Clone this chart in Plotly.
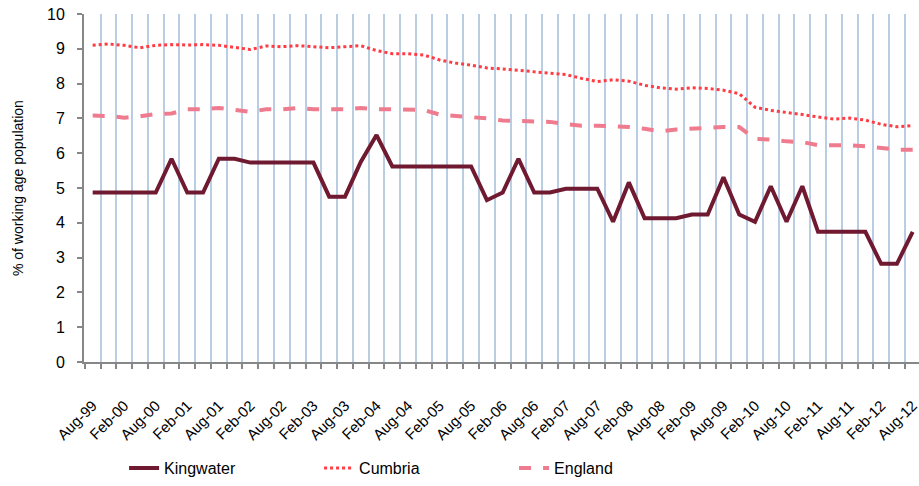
import plotly.graph_objs as go

# Quarterly categories, Aug-99 .. Aug-12 (53 quarters)
quarters = []
for yr in range(1999, 2013):
    for mon in ['Feb', 'May', 'Aug', 'Nov']:
        quarters.append(f"{mon}-{str(yr)[2:]}")
quarters = quarters[quarters.index('Aug-99'):quarters.index('Aug-12') + 1]

kingwater = [4.87, 4.87, 4.87, 4.87, 4.87, 5.84, 4.87, 4.87, 5.84, 5.84,
             5.73, 5.73, 5.73, 5.73, 5.73, 4.75, 4.75, 5.75, 6.52, 5.62,
             5.62, 5.62, 5.62, 5.62, 5.62, 4.65, 4.87, 5.84, 4.87, 4.87,
             4.98, 4.98, 4.98, 4.03, 5.16, 4.13, 4.13, 4.13, 4.24, 4.24,
             5.31, 4.24, 4.03, 5.05, 4.03, 5.05, 3.74, 3.74, 3.74, 3.74,
             2.82, 2.82, 3.74]

cumbria = [9.10, 9.14, 9.10, 9.03, 9.10, 9.12, 9.11, 9.12, 9.10, 9.05,
           8.98, 9.08, 9.06, 9.09, 9.05, 9.03, 9.06, 9.09, 8.95, 8.86,
           8.86, 8.82, 8.68, 8.59, 8.53, 8.45, 8.42, 8.38, 8.32, 8.29,
           8.26, 8.15, 8.06, 8.11, 8.07, 7.95, 7.88, 7.84, 7.88, 7.86,
           7.81, 7.71, 7.32, 7.23, 7.18, 7.11, 7.04, 6.98, 7.01, 6.95,
           6.83, 6.76, 6.79]

england = [7.08, 7.07, 7.02, 7.06, 7.13, 7.14, 7.26, 7.26, 7.30, 7.24,
           7.19, 7.26, 7.26, 7.30, 7.26, 7.26, 7.26, 7.30, 7.26, 7.26,
           7.26, 7.24, 7.11, 7.07, 7.05, 7.00, 6.94, 6.92, 6.92, 6.90,
           6.84, 6.79, 6.79, 6.77, 6.75, 6.70, 6.63, 6.68, 6.70, 6.74,
           6.75, 6.75, 6.41, 6.39, 6.34, 6.32, 6.23, 6.23, 6.23, 6.20,
           6.15, 6.10, 6.10]

tick_labels = quarters[::2]

x = list(range(len(quarters)))
tick_pos = x[::2]
grid_pos = [i + 0.5 for i in range(-1, len(quarters))]

fig = go.Figure()
fig.add_trace(go.Scatter(x=x, y=kingwater, mode='lines', name='Kingwater',
                         line=dict(color='#6F1A30', width=4)))
fig.add_trace(go.Scatter(x=x, y=cumbria, mode='lines', name='Cumbria',
                         line=dict(color='#FF3B43', width=3, dash='dot')))
fig.add_trace(go.Scatter(x=x, y=england, mode='lines', name='England',
                         line=dict(color='#EF7B8E', width=4, dash='dash')))

fig.update_layout(
    width=919, height=486,
    margin=dict(l=84, r=0, t=14, b=124),
    plot_bgcolor='white', paper_bgcolor='white',
    font=dict(family='Liberation Sans, Arial', color='black'),
    showlegend=True,
    legend=dict(orientation='h', x=0.048, y=-0.256, xanchor='left', yanchor='top',
                entrywidth=150, entrywidthmode='pixels',
                font=dict(size=16), bgcolor='rgba(0,0,0,0)'),
    xaxis=dict(range=[-0.55, 52.4], tickmode='array', tickvals=tick_pos,
               ticktext=tick_labels, tickangle=-45, ticks='', automargin=False,
               ticklabelstandoff=27, ticklabeloverflow='allow',
               tickfont=dict(size=15), showgrid=False, zeroline=False,
               showline=True, linecolor='#878787', linewidth=2,
               minor=dict(tickmode='array', tickvals=grid_pos, showgrid=True,
                          gridcolor='#B9CDE5', gridwidth=2, ticks='outside',
                          ticklen=5, tickcolor='#878787', tickwidth=2)),
    yaxis=dict(range=[0, 10], dtick=1, ticks='outside', ticklen=5,
               tickcolor='#878787', tickwidth=2, showgrid=False, zeroline=False,
               showline=True, linecolor='#878787', linewidth=2, automargin=False,
               ticklabelstandoff=9, ticklabeloverflow='allow',
               tickfont=dict(size=16)),
    annotations=[dict(text='% of working age population', textangle=-90,
                      xref='paper', yref='paper', x=-0.079, y=0.5,
                      xanchor='center', yanchor='middle', showarrow=False,
                      font=dict(size=14))],
)

# drop the page's default 8px body margin so the figure fills the window
fig.write_html('out.html', config={'displayModeBar': False},
               post_script="document.body.style.margin='0px';")
